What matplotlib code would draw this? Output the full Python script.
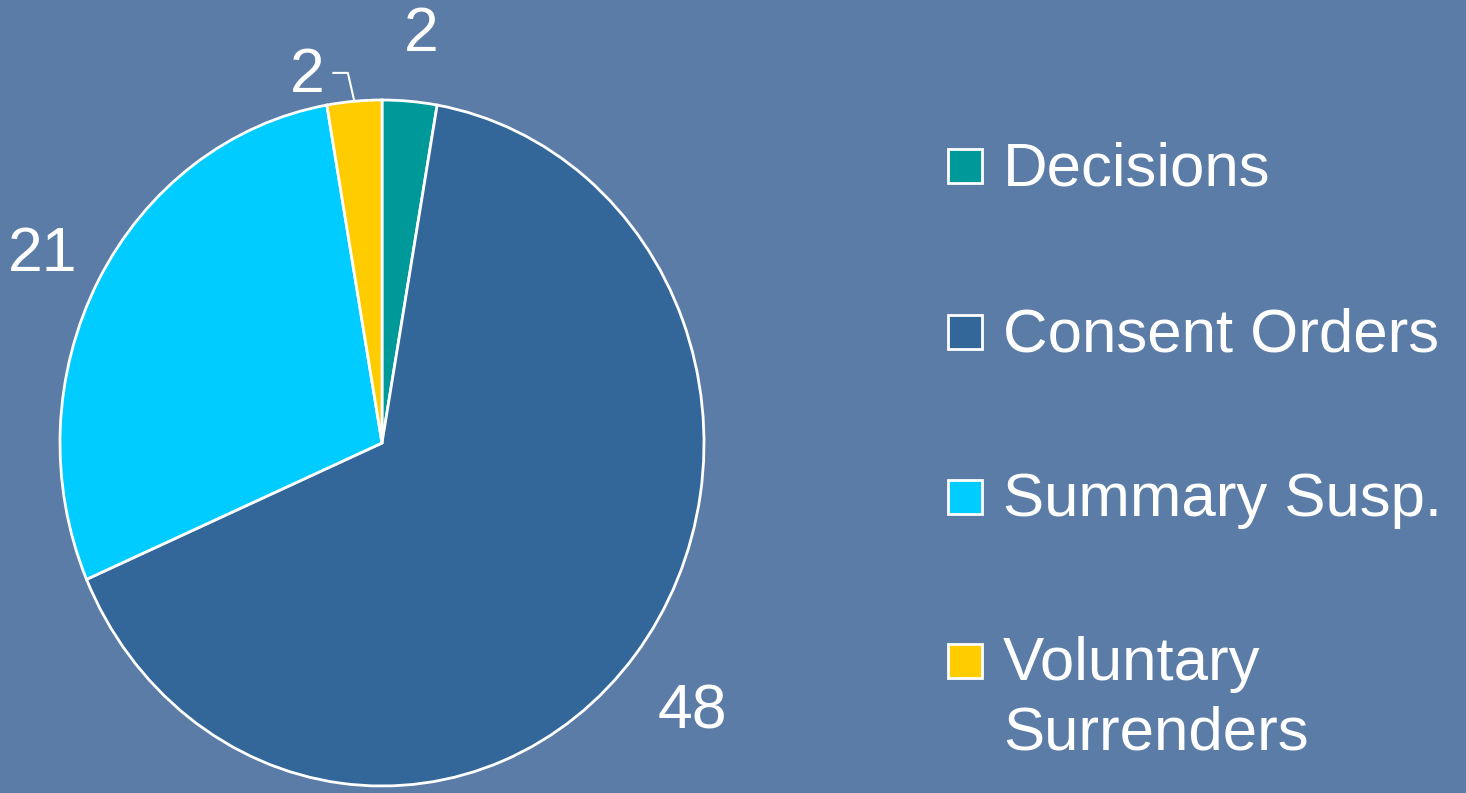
import numpy as np
import matplotlib.pyplot as plt
from matplotlib.patches import Rectangle

plt.rcParams['font.family'] = ['Liberation Sans', 'DejaVu Sans']

# data
categories = ["Decisions", "Consent Orders", "Summary Susp.", "Voluntary\nSurrenders"]
values = [2, 48, 21, 2]
colors = ["#009999", "#336699", "#00ccff", "#ffcc00"]

bg_color = "#5b7ca6"
W, H = 1466, 793

fig = plt.figure(figsize=(W / 100, H / 100), dpi=100, facecolor=bg_color)

# full-figure axes in pixel coords for the legend
bg = fig.add_axes((0, 0, 1, 1))
bg.set_xlim(0, W)
bg.set_ylim(H, 0)
bg.axis('off')

# pie axes (slightly stretched vertically, like the original slide)
cx, cy, rx, ry = 382, 443, 322, 343
ax = fig.add_axes(((cx - rx) / W, (H - cy - ry) / H, 2 * rx / W, 2 * ry / H))
wedges, _ = ax.pie(values, colors=colors, startangle=90, counterclock=False,
                   wedgeprops=dict(edgecolor='white', linewidth=2))
ax.set_aspect('auto')
ax.set_xlim(-1, 1)
ax.set_ylim(-1, 1)
ax.axis('off')

# value labels, placed around the pie
label_pos = [(0.121, 1.19), (0.963, -0.785), (-1.053, 0.55), (-0.233, 1.07)]
for val, (lx, ly) in zip(values, label_pos):
    ax.text(lx, ly, str(val), fontsize=45, color='white',
            ha='center', va='center', clip_on=False)

# leader line for the small yellow slice
w = wedges[3]
mid = np.radians((w.theta1 + w.theta2) / 2)
ex, ey = np.cos(mid), np.sin(mid)
ax.plot([ex - 0.065, ex - 0.02, ex], [1.079, 1.079, ey], color='white',
        lw=1.5, clip_on=False)

# legend drawn by hand (one text per line so the marker sits on line one)
rows_y = [166, 332, 497, 661]
for cat, col, y in zip(categories, colors, rows_y):
    bg.add_patch(Rectangle((948, y - 17), 34, 34, facecolor=col,
                           edgecolor='white', lw=2))
    for i, line in enumerate(cat.split("\n")):
        bg.text(1003, y + 19 + 70 * i, line, fontsize=44.5, color='white',
                ha='left', va='baseline')

fig.savefig("out.png", dpi=100, facecolor=bg_color)
